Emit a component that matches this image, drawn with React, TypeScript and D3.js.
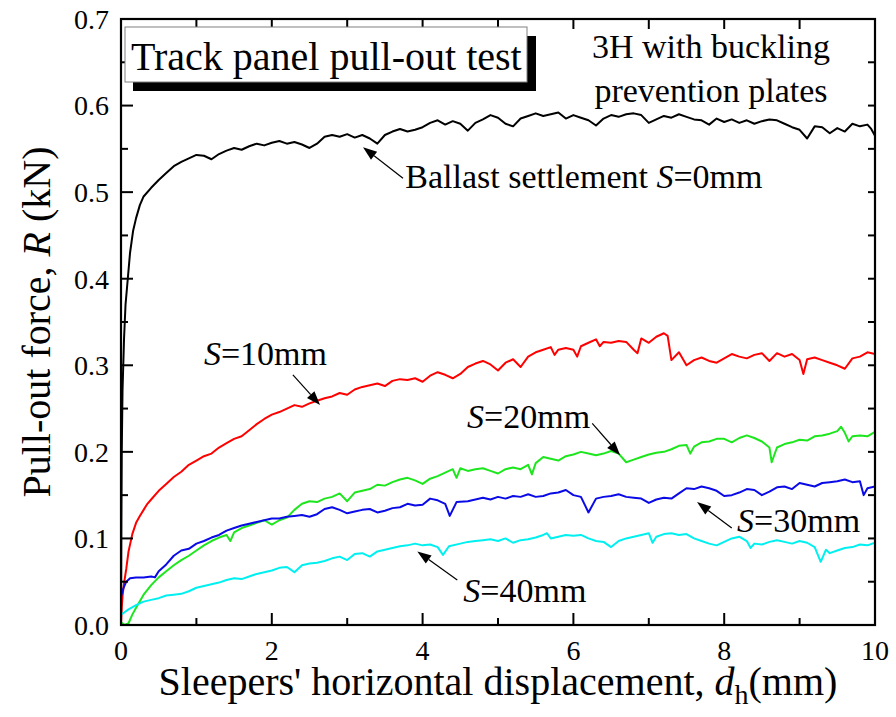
import React from "react";
import * as d3 from "d3";

// Ballast settlement S = 0 mm (black)
const s0: [number, number][] = [
  [0, 0], [0.005, 0.12], [0.01, 0.2], [0.02, 0.27], [0.04, 0.33], [0.06, 0.37], [0.09, 0.4],
  [0.12, 0.43], [0.16, 0.455], [0.2, 0.47], [0.25, 0.485], [0.3, 0.495], [0.4, 0.505],
  [0.5, 0.514], [0.6, 0.522], [0.7, 0.53], [0.8, 0.535], [0.9, 0.539], [1.0, 0.543],
  [1.1, 0.542], [1.2, 0.538], [1.3, 0.544], [1.4, 0.548], [1.5, 0.551], [1.6, 0.549],
  [1.7, 0.553], [1.8, 0.556], [1.9, 0.554], [2.0, 0.557], [2.1, 0.559], [2.2, 0.556],
  [2.3, 0.558], [2.4, 0.555], [2.5, 0.551], [2.6, 0.556], [2.7, 0.564], [2.8, 0.566],
  [2.9, 0.564], [3.0, 0.567], [3.1, 0.563], [3.2, 0.566], [3.3, 0.562], [3.4, 0.556],
  [3.5, 0.566], [3.6, 0.57], [3.7, 0.573], [3.8, 0.57], [3.9, 0.572], [4.0, 0.575],
  [4.1, 0.58], [4.2, 0.583], [4.3, 0.578], [4.4, 0.582], [4.5, 0.579], [4.6, 0.571],
  [4.7, 0.58], [4.8, 0.584], [4.9, 0.589], [5.0, 0.586], [5.1, 0.579], [5.2, 0.576],
  [5.3, 0.585], [5.4, 0.588], [5.5, 0.591], [5.6, 0.588], [5.7, 0.59], [5.8, 0.592],
  [5.9, 0.585], [6.0, 0.589], [6.1, 0.586], [6.2, 0.583], [6.3, 0.577], [6.4, 0.585],
  [6.5, 0.589], [6.6, 0.587], [6.7, 0.59], [6.8, 0.591], [6.9, 0.589], [7.0, 0.58],
  [7.1, 0.584], [7.2, 0.588], [7.3, 0.586], [7.4, 0.59], [7.5, 0.587], [7.6, 0.584],
  [7.7, 0.583], [7.8, 0.578], [7.9, 0.585], [8.0, 0.581], [8.1, 0.584], [8.2, 0.58],
  [8.3, 0.583], [8.4, 0.579], [8.5, 0.582], [8.6, 0.584], [8.7, 0.583], [8.8, 0.579],
  [8.9, 0.575], [9.0, 0.572], [9.1, 0.562], [9.2, 0.576], [9.3, 0.575], [9.4, 0.568],
  [9.5, 0.574], [9.6, 0.57], [9.7, 0.579], [9.8, 0.576], [9.9, 0.578], [9.95, 0.573],
  [10.0, 0.565],
];

// S = 10 mm (red)
const s10: [number, number][] = [
  [0, 0], [0.01, 0.02], [0.02, 0.033], [0.04, 0.048], [0.07, 0.065], [0.1, 0.085],
  [0.15, 0.105], [0.2, 0.118], [0.25, 0.126], [0.3, 0.133], [0.35, 0.14], [0.4, 0.145],
  [0.5, 0.155], [0.6, 0.163], [0.7, 0.171], [0.8, 0.177], [0.9, 0.185], [1.0, 0.19],
  [1.1, 0.195], [1.2, 0.198], [1.3, 0.205], [1.4, 0.21], [1.5, 0.215], [1.6, 0.218],
  [1.7, 0.225], [1.8, 0.232], [1.9, 0.238], [2.0, 0.243], [2.1, 0.246], [2.2, 0.25],
  [2.3, 0.254], [2.4, 0.252], [2.5, 0.256], [2.6, 0.259], [2.7, 0.262], [2.8, 0.264],
  [2.9, 0.268], [3.0, 0.266], [3.1, 0.272], [3.2, 0.275], [3.3, 0.277], [3.4, 0.279],
  [3.5, 0.276], [3.6, 0.282], [3.7, 0.284], [3.8, 0.283], [3.9, 0.285], [4.0, 0.281],
  [4.1, 0.288], [4.2, 0.292], [4.3, 0.289], [4.4, 0.285], [4.5, 0.29], [4.6, 0.298],
  [4.7, 0.302], [4.8, 0.305], [4.9, 0.301], [5.0, 0.294], [5.1, 0.303], [5.2, 0.307],
  [5.3, 0.298], [5.4, 0.31], [5.5, 0.315], [5.6, 0.318], [5.7, 0.321], [5.75, 0.312],
  [5.8, 0.318], [5.9, 0.32], [6.0, 0.318], [6.05, 0.31], [6.1, 0.322], [6.2, 0.326],
  [6.3, 0.33], [6.35, 0.322], [6.4, 0.327], [6.5, 0.326], [6.6, 0.328], [6.7, 0.327],
  [6.8, 0.318], [6.85, 0.314], [6.9, 0.331], [7.0, 0.326], [7.1, 0.333], [7.2, 0.337],
  [7.25, 0.334], [7.3, 0.306], [7.4, 0.315], [7.5, 0.3], [7.6, 0.306], [7.7, 0.309],
  [7.8, 0.305], [7.9, 0.303], [8.0, 0.308], [8.1, 0.313], [8.2, 0.31], [8.3, 0.308],
  [8.4, 0.312], [8.5, 0.314], [8.6, 0.305], [8.7, 0.314], [8.8, 0.31], [8.9, 0.313],
  [9.0, 0.306], [9.05, 0.29], [9.1, 0.307], [9.2, 0.309], [9.3, 0.306], [9.4, 0.303],
  [9.5, 0.3], [9.6, 0.296], [9.7, 0.308], [9.8, 0.31], [9.9, 0.315], [10.0, 0.313],
];

// S = 20 mm (green)
const s20: [number, number][] = [
  [0, 0.003], [0.05, 0], [0.1, 0.002], [0.15, 0.012], [0.2, 0.02], [0.3, 0.035],
  [0.4, 0.046], [0.5, 0.055], [0.6, 0.062], [0.7, 0.069], [0.8, 0.075], [0.9, 0.08],
  [1.0, 0.086], [1.1, 0.092], [1.2, 0.097], [1.3, 0.101], [1.4, 0.104], [1.45, 0.097],
  [1.5, 0.107], [1.6, 0.112], [1.7, 0.115], [1.8, 0.118], [1.9, 0.121], [2.0, 0.116],
  [2.1, 0.121], [2.2, 0.124], [2.3, 0.133], [2.4, 0.14], [2.5, 0.143], [2.6, 0.142],
  [2.7, 0.146], [2.8, 0.148], [2.9, 0.152], [3.0, 0.143], [3.1, 0.153], [3.2, 0.155],
  [3.3, 0.157], [3.4, 0.162], [3.5, 0.161], [3.6, 0.165], [3.7, 0.168], [3.8, 0.17],
  [3.9, 0.167], [4.0, 0.163], [4.1, 0.169], [4.2, 0.172], [4.3, 0.176], [4.4, 0.18],
  [4.45, 0.17], [4.5, 0.181], [4.6, 0.178], [4.7, 0.18], [4.8, 0.181], [4.9, 0.178],
  [5.0, 0.175], [5.1, 0.18], [5.2, 0.182], [5.3, 0.18], [5.4, 0.185], [5.45, 0.174],
  [5.5, 0.187], [5.6, 0.194], [5.7, 0.192], [5.8, 0.19], [5.9, 0.195], [6.0, 0.197],
  [6.1, 0.2], [6.2, 0.198], [6.3, 0.196], [6.4, 0.198], [6.5, 0.201], [6.6, 0.198],
  [6.7, 0.188], [6.8, 0.191], [6.9, 0.194], [7.0, 0.197], [7.1, 0.199], [7.2, 0.2],
  [7.3, 0.203], [7.4, 0.207], [7.5, 0.208], [7.55, 0.198], [7.6, 0.206], [7.7, 0.211],
  [7.8, 0.212], [7.9, 0.215], [8.0, 0.215], [8.1, 0.211], [8.2, 0.216], [8.3, 0.219],
  [8.4, 0.216], [8.5, 0.212], [8.6, 0.205], [8.63, 0.188], [8.7, 0.205], [8.8, 0.209],
  [8.9, 0.211], [9.0, 0.214], [9.1, 0.213], [9.2, 0.218], [9.3, 0.219], [9.4, 0.221],
  [9.5, 0.224], [9.55, 0.229], [9.6, 0.222], [9.65, 0.212], [9.7, 0.218], [9.8, 0.219],
  [9.9, 0.218], [10.0, 0.223],
];

// S = 30 mm (blue)
const s30: [number, number][] = [
  [0, 0.033], [0.03, 0.042], [0.07, 0.05], [0.12, 0.054], [0.2, 0.055], [0.3, 0.055],
  [0.4, 0.056], [0.45, 0.055], [0.5, 0.062], [0.6, 0.07], [0.7, 0.08], [0.8, 0.086],
  [0.9, 0.088], [1.0, 0.094], [1.1, 0.097], [1.2, 0.101], [1.3, 0.104], [1.4, 0.109],
  [1.5, 0.112], [1.6, 0.115], [1.7, 0.117], [1.8, 0.119], [1.9, 0.121], [2.0, 0.123],
  [2.1, 0.123], [2.2, 0.125], [2.3, 0.126], [2.4, 0.127], [2.5, 0.125], [2.6, 0.128],
  [2.7, 0.134], [2.8, 0.136], [2.9, 0.133], [3.0, 0.129], [3.1, 0.131], [3.2, 0.133],
  [3.3, 0.134], [3.4, 0.13], [3.5, 0.132], [3.6, 0.135], [3.7, 0.136], [3.8, 0.14],
  [3.9, 0.138], [4.0, 0.139], [4.1, 0.146], [4.2, 0.144], [4.3, 0.14], [4.36, 0.126],
  [4.45, 0.142], [4.6, 0.143], [4.7, 0.145], [4.8, 0.147], [4.9, 0.145], [5.0, 0.148],
  [5.1, 0.146], [5.2, 0.149], [5.3, 0.148], [5.4, 0.151], [5.5, 0.148], [5.6, 0.149],
  [5.7, 0.152], [5.8, 0.153], [5.9, 0.156], [6.0, 0.15], [6.1, 0.148], [6.2, 0.13],
  [6.3, 0.146], [6.4, 0.148], [6.5, 0.149], [6.6, 0.151], [6.7, 0.148], [6.8, 0.147],
  [6.9, 0.146], [7.0, 0.141], [7.1, 0.145], [7.2, 0.147], [7.3, 0.146], [7.4, 0.152],
  [7.5, 0.158], [7.6, 0.157], [7.7, 0.16], [7.8, 0.158], [7.9, 0.155], [8.0, 0.149],
  [8.1, 0.15], [8.2, 0.153], [8.3, 0.157], [8.4, 0.156], [8.5, 0.15], [8.6, 0.154],
  [8.7, 0.159], [8.8, 0.16], [8.9, 0.157], [9.0, 0.164], [9.1, 0.162], [9.2, 0.16],
  [9.3, 0.164], [9.4, 0.165], [9.5, 0.166], [9.6, 0.168], [9.7, 0.165], [9.8, 0.166],
  [9.85, 0.15], [9.9, 0.158], [10.0, 0.16],
];

// S = 40 mm (cyan)
const s40: [number, number][] = [
  [0, 0.012], [0.1, 0.018], [0.2, 0.023], [0.3, 0.027], [0.4, 0.029], [0.5, 0.031],
  [0.6, 0.034], [0.7, 0.035], [0.8, 0.036], [0.9, 0.039], [1.0, 0.043], [1.1, 0.045],
  [1.2, 0.047], [1.3, 0.049], [1.4, 0.052], [1.5, 0.054], [1.6, 0.053], [1.7, 0.056],
  [1.8, 0.059], [1.9, 0.061], [2.0, 0.063], [2.1, 0.066], [2.2, 0.067], [2.3, 0.061],
  [2.4, 0.069], [2.5, 0.071], [2.6, 0.072], [2.7, 0.074], [2.8, 0.077], [2.9, 0.079],
  [3.0, 0.075], [3.1, 0.082], [3.2, 0.083], [3.3, 0.079], [3.4, 0.085], [3.5, 0.087],
  [3.6, 0.089], [3.7, 0.091], [3.8, 0.092], [3.9, 0.094], [4.0, 0.092], [4.1, 0.093],
  [4.2, 0.09], [4.27, 0.081], [4.35, 0.091], [4.5, 0.094], [4.6, 0.096], [4.7, 0.097],
  [4.8, 0.098], [4.9, 0.099], [5.0, 0.097], [5.1, 0.1], [5.2, 0.095], [5.3, 0.098],
  [5.4, 0.099], [5.5, 0.101], [5.6, 0.104], [5.65, 0.106], [5.7, 0.1], [5.8, 0.102],
  [5.9, 0.104], [6.0, 0.103], [6.1, 0.104], [6.2, 0.1], [6.3, 0.097], [6.4, 0.096],
  [6.5, 0.09], [6.6, 0.097], [6.7, 0.1], [6.8, 0.102], [6.9, 0.104], [7.0, 0.106],
  [7.05, 0.095], [7.1, 0.102], [7.2, 0.105], [7.3, 0.106], [7.4, 0.104], [7.5, 0.105],
  [7.6, 0.1], [7.7, 0.097], [7.8, 0.094], [7.9, 0.092], [8.0, 0.096], [8.1, 0.1],
  [8.2, 0.102], [8.3, 0.097], [8.35, 0.089], [8.4, 0.094], [8.5, 0.093], [8.6, 0.096],
  [8.7, 0.098], [8.8, 0.096], [8.9, 0.094], [9.0, 0.097], [9.1, 0.095], [9.2, 0.09],
  [9.28, 0.073], [9.35, 0.087], [9.4, 0.083], [9.5, 0.086], [9.6, 0.089], [9.7, 0.09],
  [9.8, 0.093], [9.9, 0.092], [10.0, 0.095],
];

const seriesList = [
  { name: "S=0mm", data: s0, color: "#000000" },
  { name: "S=10mm", data: s10, color: "#ff0000" },
  { name: "S=20mm", data: s20, color: "#1ee61e" },
  { name: "S=30mm", data: s30, color: "#0a0ae6" },
  { name: "S=40mm", data: s40, color: "#00f0f0" },
];

const yTicks = [0, 0.1, 0.2, 0.3, 0.4, 0.5, 0.6, 0.7];
const xTicks = [0, 2, 4, 6, 8, 10];

// annotations: text anchor, arrow start, arrow tip (data coordinates)
const notes = [
  { pre: "Ballast settlement ", val: "=0mm", tx: 3.77, ty: 0.505, ax: 3.74, ay: 0.516, bx: 3.21, by: 0.552 },
  { pre: "", val: "=10mm", tx: 1.1, ty: 0.3, ax: 2.28, ay: 0.289, bx: 2.64, by: 0.254 },
  { pre: "", val: "=20mm", tx: 4.59, ty: 0.227, ax: 6.25, ay: 0.233, bx: 6.62, by: 0.196 },
  { pre: "", val: "=30mm", tx: 8.17, ty: 0.107, ax: 8.1, ay: 0.112, bx: 7.64, by: 0.142 },
  { pre: "", val: "=40mm", tx: 4.54, ty: 0.027, ax: 4.46, ay: 0.052, bx: 3.93, by: 0.085 },
];

const FONT = "'Liberation Serif', 'Times New Roman', serif";

export default function App() {
  const width = 896;
  const height = 717;
  const left = 121, right = 875, top = 19, bottom = 625;

  const x = d3.scaleLinear().domain([0, 10]).range([left, right]);
  const y = d3.scaleLinear().domain([0, 0.7]).range([bottom, top]);

  const line = d3
    .line<[number, number]>()
    .x((d) => x(d[0]))
    .y((d) => y(d[1]));

  const xMinor = d3.range(0, 11, 1);
  const yMinor = d3.range(0, 0.7001, 0.05);

  const arrow = (ax: number, ay: number, bx: number, by: number, key: number) => {
    const x1 = x(ax), y1 = y(ay), x2 = x(bx), y2 = y(by);
    const ang = Math.atan2(y2 - y1, x2 - x1);
    const L = 14, W = 5;
    const bxp = x2 - L * Math.cos(ang), byp = y2 - L * Math.sin(ang);
    const px = -Math.sin(ang) * W, py = Math.cos(ang) * W;
    return (
      <g key={key}>
        <line x1={x1} y1={y1} x2={bxp} y2={byp} stroke="#000" strokeWidth={1.2} />
        <polygon points={`${x2},${y2} ${bxp + px},${byp + py} ${bxp - px},${byp - py}`} fill="#000" />
      </g>
    );
  };

  return (
    <svg width={width} height={height} style={{ position: "absolute", left: 0, top: 0, background: "#fff" }} fontFamily={FONT}>
      <defs>
        <clipPath id="plot">
          <rect x={left} y={top} width={right - left} height={bottom - top} />
        </clipPath>
      </defs>

      {/* curves */}
      <g clipPath="url(#plot)">
        {seriesList.map((s) => (
          <path key={s.name} d={line(s.data) || ""} fill="none" stroke={s.color} strokeWidth={2} strokeLinejoin="round" />
        ))}
      </g>

      {/* frame */}
      <rect x={left} y={top} width={right - left} height={bottom - top} fill="none" stroke="#000" strokeWidth={2.2} />

      {/* left ticks */}
      {yMinor.map((v, i) => (
        <line key={"yl" + i} x1={left} x2={left + (i % 2 === 0 ? 12 : 7)} y1={y(v)} y2={y(v)} stroke="#000" strokeWidth={2} />
      ))}
      {/* right ticks */}
      {yMinor.map((v, i) => (
        <line key={"yr" + i} x1={right} x2={right - 7} y1={y(v)} y2={y(v)} stroke="#000" strokeWidth={2} />
      ))}
      {/* bottom ticks */}
      {xMinor.map((v, i) => (
        <line key={"xb" + i} x1={x(v)} x2={x(v)} y1={bottom} y2={bottom - (i % 2 === 0 ? 12 : 7)} stroke="#000" strokeWidth={2} />
      ))}
      {/* top ticks */}
      {xMinor.map((v, i) => (
        <line key={"xt" + i} x1={x(v)} x2={x(v)} y1={top} y2={top + 10} stroke="#000" strokeWidth={2} />
      ))}

      {/* tick labels */}
      {yTicks.map((v) => (
        <text key={"yt" + v} x={left - 12} y={y(v)} dy="0.35em" textAnchor="end" fontSize={28}>
          {v.toFixed(1)}
        </text>
      ))}
      {xTicks.map((v) => (
        <text key={"xtl" + v} x={x(v)} y={660} textAnchor="middle" fontSize={28}>
          {v}
        </text>
      ))}

      {/* axis titles */}
      <text x={498} y={695} textAnchor="middle" fontSize={40}>
        Sleepers' horizontal displacement, <tspan fontStyle="italic">d</tspan>
        <tspan fontSize={28} dy={9}>h</tspan>
        <tspan dy={-9}>(mm)</tspan>
      </text>
      <text transform="translate(50,322) rotate(-90)" textAnchor="middle" fontSize={40}>
        Pull-out force, <tspan fontStyle="italic">R</tspan> (kN)
      </text>

      {/* title box */}
      <rect x={133} y={36} width={403} height={55} fill="#000" />
      <rect x={125} y={27} width={402} height={55} fill="#fff" stroke="#808080" strokeWidth={1} />
      <text x={131} y={70} fontSize={40}>Track panel pull-out test</text>

      <text x={711} y={58} textAnchor="middle" fontSize={34}>3H with buckling</text>
      <text x={711} y={102} textAnchor="middle" fontSize={34}>prevention plates</text>

      {/* annotations */}
      {notes.map((n, i) => (
        <g key={"n" + i}>
          {arrow(n.ax, n.ay, n.bx, n.by, i)}
          <text x={x(n.tx)} y={y(n.ty)} fontSize={34}>
            {n.pre}
            <tspan fontStyle="italic">S</tspan>
            {n.val}
          </text>
        </g>
      ))}
    </svg>
  );
}
